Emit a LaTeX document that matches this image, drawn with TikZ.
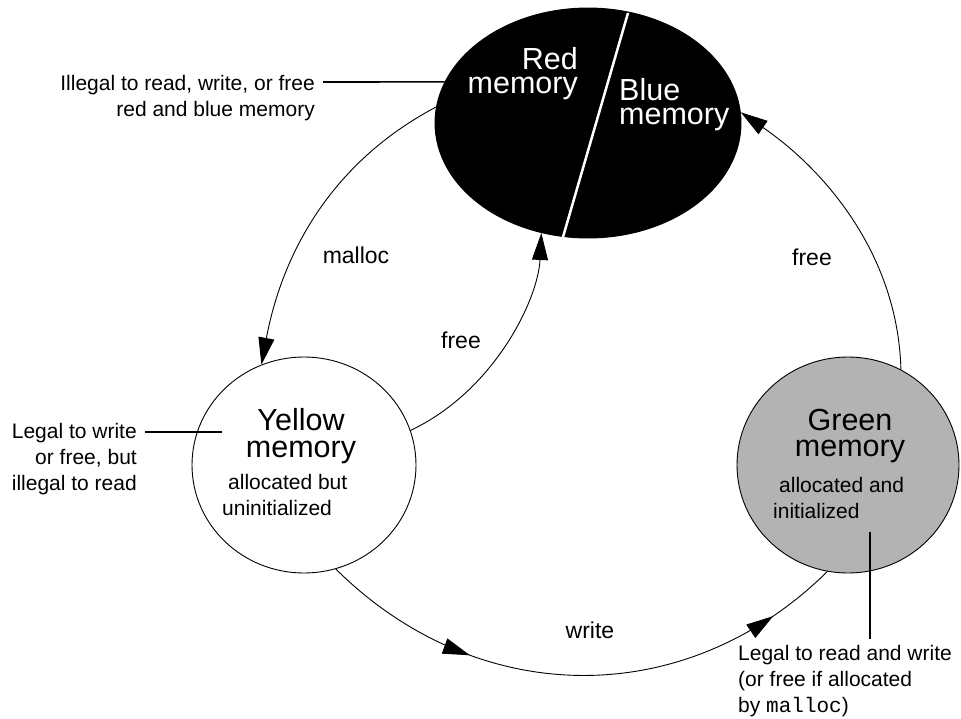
\documentclass[tikz,border=0pt]{standalone}
\usepackage{fontspec}
\setmainfont{Liberation Sans}
\setmonofont{Liberation Mono}
\usetikzlibrary{arrows.meta,shapes.geometric,decorations.markings}
\definecolor{greengray}{RGB}{179,179,179}
\begin{document}
\begin{tikzpicture}[x=1pt,y=-1pt,
  state/.style={ellipse,draw=black,line width=0.9pt,inner sep=0pt},
  bigtext/.style={font=\fontsize{30.5}{24}\selectfont,inner sep=0pt},
  bigtextb/.style={font=\fontsize{30.5}{26.5}\selectfont,inner sep=0pt},
  smalltext/.style={font=\fontsize{21}{26}\selectfont,inner sep=0pt},
  edgelabel/.style={font=\fontsize{23}{27}\selectfont,inner sep=0pt,anchor=base},
  tip/.tip={Triangle[length=27pt,width=16pt]},
  trans/.style={line width=0.9pt,-tip},
  callout/.style={line width=1.6pt},
]
\useasboundingbox (0,0) rectangle (961,718);
% states
\node[state,fill=black,minimum width=306pt,minimum height=230pt] (rb) at (588,123) {};
\draw[white,line width=2.5pt] (628,13) -- (563,237);
\node[bigtext,text=white,align=right,anchor=base east] (redtxt) at (578,93) {Red\\memory};
\node[bigtext,text=white,align=left,anchor=base west] (bluetxt) at (619,124) {Blue\\memory};

\node[state,fill=white,minimum width=224pt,minimum height=216pt] (y) at (304,465) {};
\node[bigtextb,align=center,anchor=base] (ytxt) at (301,457) {Yellow\\memory};
\node[smalltext,anchor=base west] (yd1) at (228,489) {allocated but};
\node[smalltext,anchor=base west] (yd2) at (222,515) {uninitialized};

\node[state,fill=greengray,minimum width=222pt,minimum height=216pt] (g) at (848,465) {};
\node[bigtextb,align=center,anchor=base] (gtxt) at (850,456.5) {Green\\memory};
\node[smalltext,anchor=base west] (gd1) at (779,492) {allocated and};
\node[smalltext,anchor=base west] (gd2) at (773,518) {initialized};

% transitions
\draw[trans] (rb.174) .. controls (330,163) and (282,255) .. (y.113);
\draw[trans] (y.18) .. controls (494,391) and (538,300) .. (rb.247);
\draw[trans] (g.61) .. controls (898,255) and (825,170) .. (rb.4);
\draw[line width=0.9pt,postaction={decorate},
  decoration={markings,
    mark=at position 0.293 with {\arrow{tip}},
    mark=at position 0.872 with {\arrow{tip}}}]
  (y.-73) .. controls (477,709) and (685,712) .. (g.-101);

\node[edgelabel] (lmalloc) at (356,263) {malloc};
\node[edgelabel] (lfree1) at (461,348) {free};
\node[edgelabel] (lfree2) at (812,265) {free};
\node[edgelabel] (lwrite) at (590,638) {write};

% callouts
\node[smalltext,align=right,anchor=base east] (c1) at (315,116) {Illegal to read, write, or free\\red and blue memory};
\coordinate (c1s) at (323,82);
\draw[callout] (c1s) -- (rb.164);

\node[smalltext,align=right,anchor=base east] (c2) at (137,490) {Legal to write\\or free, but\\illegal to read};
\coordinate (c2s) at (145,432);
\coordinate (c2e) at (222,432);
\draw[callout] (c2s) -- (c2e);

\node[smalltext,align=left,anchor=base west] (c3) at (738,712) {Legal to read and write\\(or free if allocated\\by \texttt{malloc})};
\coordinate (c3s) at (870,532);
\coordinate (c3e) at (870,639);
\draw[callout] (c3s) -- (c3e);
\end{tikzpicture}
\end{document}
